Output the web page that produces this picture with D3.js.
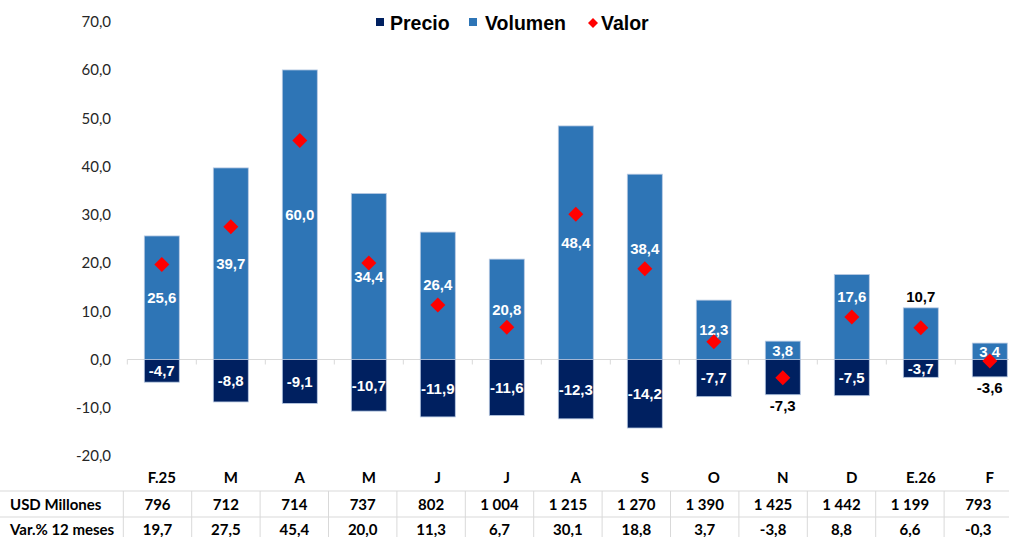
<!DOCTYPE html>
<html>
<head>
<meta charset="utf-8">
<script src="https://cdn.jsdelivr.net/npm/d3@7"></script>
<style>
    body { margin: 0; background: #ffffff; }
    svg { display: block; }
</style>
</head>
<body>
<div id="chart"></div>
<script>
// months shown on the x axis (Feb 2025 .. Feb 2026)
var categories = ["F.25", "M", "A", "M", "J", "J", "A", "S", "O", "N", "D", "E.26", "F"];
// contribution of price and volume, and the total value change (%)
var precio = [-4.7, -8.8, -9.1, -10.7, -11.9, -11.6, -12.3, -14.2, -7.7, -7.3, -7.5, -3.7, -3.6];
var volumen = [25.6, 39.7, 60.0, 34.4, 26.4, 20.8, 48.4, 38.4, 12.3, 3.8, 17.6, 10.7, 3.4];
var valor = [19.7, 27.5, 45.4, 20.0, 11.3, 6.7, 30.1, 18.8, 3.7, -3.8, 8.8, 6.6, -0.3];
// table under the chart
var usdMillones = ["796", "712", "714", "737", "802", "1 004", "1 215", "1 270", "1 390", "1 425", "1 442", "1 199", "793"];
var yTicks = [-20, -10, 0, 10, 20, 30, 40, 50, 60, 70];
var legendItems = ["Precio", "Volumen", "Valor"];

var width = 1009, height = 537;
var colPrecio = "#002060", colVolumen = "#2e75b6", colValor = "#ff0000";

var svg = d3.select("#chart").append("svg")
    .attr("width", width)
    .attr("height", height);

var idx = d3.range(categories.length);

var x = d3.scaleBand()
    .domain(idx)
    .range([127.3, 127.3 + 69 * categories.length])
    .padding(0);

var y = d3.scaleLinear()
    .domain([-20, 70])
    .range([456, 21.7]);

var barW = x.bandwidth() * 0.507;

function fmt(v) {
    return v.toFixed(1).replace(".", ",");
}

// y axis, labels only
var yAxis = svg.append("g")
    .attr("transform", "translate(127,0)")
    .call(d3.axisLeft(y).tickValues(yTicks).tickFormat(fmt).tickSize(0).tickPadding(16));
yAxis.select(".domain").remove();
yAxis.selectAll("text")
    .style("font-family", "Lato, 'Open Sans', sans-serif")
    .style("font-size", "15px")
    .style("fill", "#262626");

// zero line with small ticks at the category borders
svg.append("line")
    .attr("x1", x.range()[0]).attr("x2", width)
    .attr("y1", y(0)).attr("y2", y(0))
    .attr("stroke", "#d9d9d9").attr("stroke-width", 1);
svg.selectAll(".zt").data(idx).enter().append("line")
    .attr("x1", d => x(d)).attr("x2", d => x(d))
    .attr("y1", y(0)).attr("y2", y(0) + 5)
    .attr("stroke", "#d9d9d9").attr("stroke-width", 1);

// bars
function drawBars(vals, color) {
    svg.selectAll(null).data(idx).enter().append("rect")
        .attr("x", d => x(d) + (x.bandwidth() - barW) / 2)
        .attr("y", d => Math.min(y(0), y(vals[d])))
        .attr("width", barW)
        .attr("height", d => Math.abs(y(vals[d]) - y(0)))
        .attr("fill", color)
        .attr("stroke", "#b7c9e2")
        .attr("stroke-width", 0.8);
}
drawBars(volumen, colVolumen);
drawBars(precio, colPrecio);

// data labels: centre of the bar, moved away when the diamond sits on it
function labelPos(v, d) {
    var top = Math.min(y(0), y(v)), bottom = Math.max(y(0), y(v));
    var mid = (top + bottom) / 2;
    var dy = y(valor[d]);
    if (Math.abs(mid - dy) >= 9.4) return { y: mid, inside: true };
    var shifted = v > 0 ? dy - 20 : dy + 20;
    if (shifted - 7 > top && shifted + 7 < bottom) return { y: shifted, inside: true };
    return { y: v > 0 ? top - 11 : bottom + 11, inside: false };
}

function drawLabels(vals) {
    svg.selectAll(null).data(idx).enter().append("text")
        .attr("x", d => x(d) + x.bandwidth() / 2)
        .attr("y", d => labelPos(vals[d], d).y)
        .attr("dy", "0.36em")
        .attr("text-anchor", "middle")
        .style("font-family", "'Liberation Sans', Arial, sans-serif")
        .style("font-weight", "bold")
        .style("font-size", "15px")
        .style("fill", d => labelPos(vals[d], d).inside ? "#ffffff" : "#000000")
        .text(d => fmt(vals[d]));
}
drawLabels(volumen);
drawLabels(precio);

// diamonds for Valor
var diamond = "M0,-7.5L7.5,0L0,7.5L-7.5,0Z";
svg.selectAll(null).data(idx).enter().append("path")
    .attr("d", diamond)
    .attr("transform", d => "translate(" + (x(d) + x.bandwidth() / 2) + "," + y(valor[d]) + ")")
    .attr("fill", colValor);

// category labels
svg.selectAll(null).data(idx).enter().append("text")
    .attr("x", d => x(d) + x.bandwidth() / 2)
    .attr("y", 483)
    .attr("text-anchor", "middle")
    .style("font-family", "Lato, 'Open Sans', sans-serif")
    .style("font-weight", "bold")
    .style("font-size", "15px")
    .style("fill", "#000000")
    .text(d => categories[d]);

// legend
var legendX = [376, 469, 588];
var legendTextX = [390, 485, 601];
var legendColors = [colPrecio, colVolumen, colValor];
var legend = svg.append("g");
legendItems.forEach(function (name, i) {
    if (i < 2) {
        legend.append("rect")
            .attr("x", legendX[i]).attr("y", 18)
            .attr("width", 8).attr("height", 8)
            .attr("fill", legendColors[i]);
    } else {
        legend.append("path")
            .attr("d", "M0,-5L5,0L0,5L-5,0Z")
            .attr("transform", "translate(" + (legendX[i] + 5) + ",23)")
            .attr("fill", legendColors[i]);
    }
    legend.append("text")
        .attr("x", legendTextX[i]).attr("y", 30)
        .style("font-family", "'Liberation Sans', Arial, sans-serif")
        .style("font-weight", "bold")
        .style("font-size", "19.5px")
        .style("fill", "#000000")
        .text(name);
});

// table under the chart
var tx = d3.scaleBand()
    .domain(idx)
    .range([123.3, 123.3 + 68.4 * categories.length]);

var table = svg.append("g");
var rowTop = 491, rowMid = 517;
table.append("line").attr("x1", 0).attr("x2", width).attr("y1", rowTop).attr("y2", rowTop)
    .attr("stroke", "#d9d9d9");
table.append("line").attr("x1", 0).attr("x2", width).attr("y1", rowMid).attr("y2", rowMid)
    .attr("stroke", "#d9d9d9");
table.selectAll(null).data(idx).enter().append("line")
    .attr("x1", d => tx(d)).attr("x2", d => tx(d))
    .attr("y1", rowTop).attr("y2", height)
    .attr("stroke", "#d9d9d9");

var rowStyle = function (sel) {
    sel.style("font-family", "Lato, 'Open Sans', sans-serif")
        .style("font-weight", "bold")
        .style("font-size", "15px")
        .style("fill", "#000000");
};

table.append("text").attr("x", 10).attr("y", 510).call(rowStyle).text("USD Millones");
table.append("text").attr("x", 10).attr("y", 535).call(rowStyle).text("Var.% 12 meses");

table.selectAll(null).data(idx).enter().append("text")
    .attr("x", d => tx(d) + tx.bandwidth() / 2)
    .attr("y", 510)
    .attr("text-anchor", "middle")
    .call(rowStyle)
    .text(d => usdMillones[d]);

table.selectAll(null).data(idx).enter().append("text")
    .attr("x", d => tx(d) + tx.bandwidth() / 2)
    .attr("y", 535)
    .attr("text-anchor", "middle")
    .call(rowStyle)
    .text(d => fmt(valor[d]));
</script>
</body>
</html>
